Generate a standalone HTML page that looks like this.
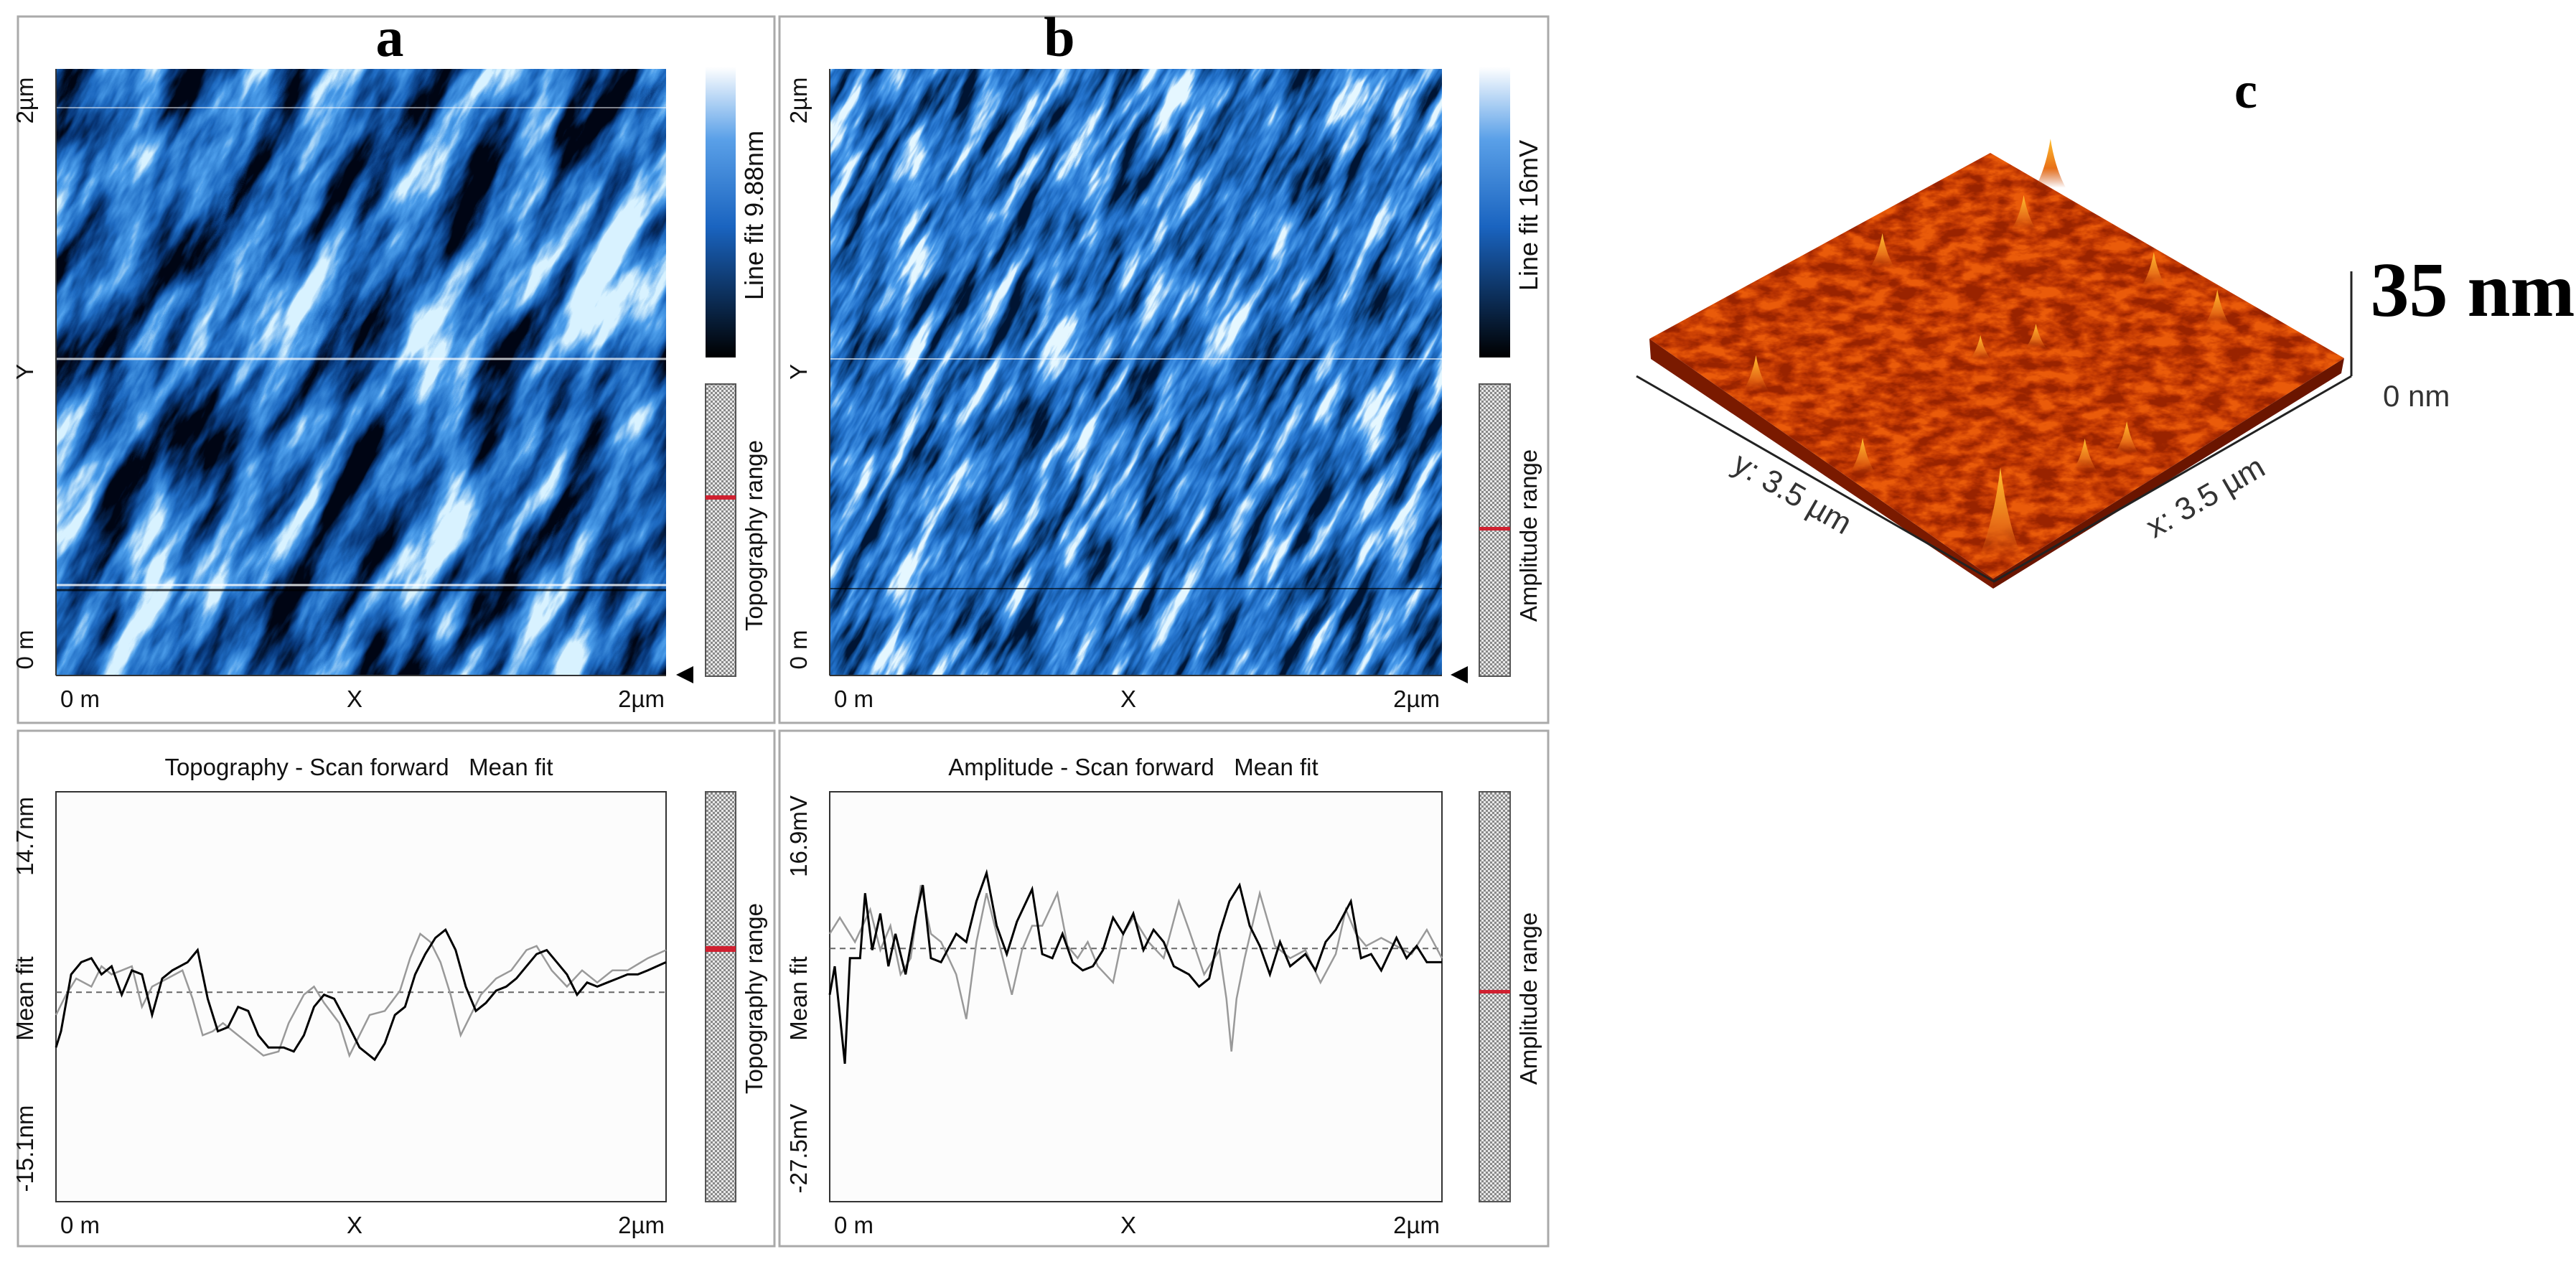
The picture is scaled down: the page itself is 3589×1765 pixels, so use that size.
<!DOCTYPE html>
<html><head><meta charset="utf-8"><style>
html,body{margin:0;padding:0;background:#fff}
svg{display:block}
text{font-family:"Liberation Sans",sans-serif}
.lbl{font-size:33px;fill:#111}
.big{font-family:"Liberation Serif",serif;font-weight:bold}
</style></head><body>
<svg id="fig" width="3589" height="1765" viewBox="0 0 3589 1765">
<defs>
<filter id="topo" x="0" y="0" width="1" height="1" filterUnits="objectBoundingBox" color-interpolation-filters="sRGB">
 <feTurbulence type="fractalNoise" baseFrequency="0.0045 0.018" numOctaves="5" seed="7"/>
 <feColorMatrix type="matrix" values="1 0 0 0 0 1 0 0 0 0 1 0 0 0 0 0 0 0 0 1"/>
 <feComponentTransfer><feFuncR type="linear" slope="2.6" intercept="-0.8"/><feFuncG type="linear" slope="2.6" intercept="-0.8"/><feFuncB type="linear" slope="2.6" intercept="-0.8"/><feFuncA type="discrete" tableValues="1"/></feComponentTransfer>
 <feComponentTransfer><feFuncR type="table" tableValues="0 0.03 0.12 0.3 0.85"/><feFuncG type="table" tableValues="0.02 0.22 0.42 0.62 0.95"/><feFuncB type="table" tableValues="0.08 0.48 0.76 0.92 1"/></feComponentTransfer>
</filter>
<filter id="amp" x="0" y="0" width="1" height="1" filterUnits="objectBoundingBox" color-interpolation-filters="sRGB">
 <feTurbulence type="fractalNoise" baseFrequency="0.008 0.045" numOctaves="4" seed="3"/>
 <feColorMatrix type="matrix" values="1 0 0 0 0 1 0 0 0 0 1 0 0 0 0 0 0 0 0 1"/>
 <feComponentTransfer><feFuncR type="linear" slope="2.1" intercept="-0.55"/><feFuncG type="linear" slope="2.1" intercept="-0.55"/><feFuncB type="linear" slope="2.1" intercept="-0.55"/><feFuncA type="discrete" tableValues="1"/></feComponentTransfer>
 <feComponentTransfer><feFuncR type="table" tableValues="0 0.06 0.14 0.3 0.9"/><feFuncG type="table" tableValues="0.08 0.3 0.45 0.62 0.97"/><feFuncB type="table" tableValues="0.2 0.58 0.8 0.93 1"/></feComponentTransfer>
</filter>
<filter id="rust" x="0" y="0" width="1" height="1" filterUnits="objectBoundingBox" color-interpolation-filters="sRGB">
 <feTurbulence type="fractalNoise" baseFrequency="0.03 0.06" numOctaves="4" seed="5"/>
 <feColorMatrix type="matrix" values="1 0 0 0 0 1 0 0 0 0 1 0 0 0 0 0 0 0 0 1"/>
 <feComponentTransfer><feFuncR type="linear" slope="2.5" intercept="-0.75"/><feFuncG type="linear" slope="2.5" intercept="-0.75"/><feFuncB type="linear" slope="2.5" intercept="-0.75"/><feFuncA type="discrete" tableValues="1"/></feComponentTransfer>
 <feComponentTransfer><feFuncR type="table" tableValues="0.6 0.72 0.82 0.92"/><feFuncG type="table" tableValues="0.14 0.2 0.27 0.36"/><feFuncB type="table" tableValues="0 0.01 0.02 0.04"/></feComponentTransfer>
</filter>
<clipPath id="ca"><rect x="78" y="96" width="850" height="845"/></clipPath>
<clipPath id="cb"><rect x="1156" y="96" width="853" height="845"/></clipPath>
<clipPath id="cs"><polygon points="2298,472 2773,213 3266,499 2777,806"/></clipPath>
<linearGradient id="cbar" x1="0" y1="1" x2="0" y2="0"><stop offset="0" stop-color="#000"/><stop offset="0.45" stop-color="#1a64c0"/><stop offset="0.75" stop-color="#5aa0e8"/><stop offset="1" stop-color="#fff"/></linearGradient>
<linearGradient id="peak" x1="0" y1="1" x2="0" y2="0"><stop offset="0" stop-color="#c84808" stop-opacity="0"/><stop offset="0.4" stop-color="#e87018"/><stop offset="1" stop-color="#ffc030"/></linearGradient>
<pattern id="dots" width="6" height="6" patternUnits="userSpaceOnUse"><rect width="6" height="6" fill="#e8e8e8"/><rect width="3" height="3" fill="#888"/><rect x="3" y="3" width="3" height="3" fill="#888"/></pattern>
</defs>

<rect x="25" y="23" width="1054" height="984" fill="none" stroke="#aaa" stroke-width="3"/>
<rect x="1086" y="23" width="1071" height="984" fill="none" stroke="#aaa" stroke-width="3"/>
<rect x="25" y="1018" width="1054" height="718" fill="none" stroke="#aaa" stroke-width="3"/>
<rect x="1086" y="1018" width="1071" height="718" fill="none" stroke="#aaa" stroke-width="3"/>

<text x="543" y="78" class="big" font-size="78" text-anchor="middle">a</text>
<text x="1476" y="78" class="big" font-size="78" text-anchor="middle">b</text>

<g clip-path="url(#ca)">
 <g transform="rotate(-62 503 518)"><rect x="-300" y="-300" width="1600" height="1600" filter="url(#topo)"/></g>
 <line x1="78" y1="500" x2="928" y2="500" stroke="#fff" stroke-width="3" opacity="0.7"/>
 <line x1="78" y1="815" x2="928" y2="815" stroke="#fff" stroke-width="3" opacity="0.8"/>
 <line x1="78" y1="822" x2="928" y2="822" stroke="#000" stroke-width="3" opacity="0.7"/>
 <line x1="78" y1="150" x2="928" y2="150" stroke="#fff" stroke-width="2" opacity="0.5"/>
</g>
<g clip-path="url(#cb)">
 <g transform="rotate(-62 1582 518)"><rect x="780" y="-300" width="1600" height="1600" filter="url(#amp)"/></g>
 <line x1="1156" y1="500" x2="2009" y2="500" stroke="#fff" stroke-width="2" opacity="0.6"/>
 <line x1="1156" y1="820" x2="2009" y2="820" stroke="#000" stroke-width="2" opacity="0.6"/>
</g>

<g class="lbl">
 <line x1="78" y1="941" x2="78" y2="96" stroke="#333" stroke-width="2"/>
 <line x1="78" y1="941" x2="928" y2="941" stroke="#333" stroke-width="2"/>
 <text transform="translate(46,140) rotate(-90)" text-anchor="middle">2µm</text>
 <text transform="translate(46,518) rotate(-90)" text-anchor="middle">Y</text>
 <text transform="translate(46,905) rotate(-90)" text-anchor="middle">0 m</text>
 <text x="84" y="985">0 m</text><text x="494" y="985" text-anchor="middle">X</text><text x="926" y="985" text-anchor="end">2µm</text>
</g>
<g class="lbl">
 <line x1="1156" y1="941" x2="1156" y2="96" stroke="#333" stroke-width="2"/>
 <line x1="1156" y1="941" x2="2009" y2="941" stroke="#333" stroke-width="2"/>
 <text transform="translate(1124,140) rotate(-90)" text-anchor="middle">2µm</text>
 <text transform="translate(1124,518) rotate(-90)" text-anchor="middle">Y</text>
 <text transform="translate(1124,905) rotate(-90)" text-anchor="middle">0 m</text>
 <text x="1162" y="985">0 m</text><text x="1572" y="985" text-anchor="middle">X</text><text x="2006" y="985" text-anchor="end">2µm</text>
</g>
<polygon points="942,940 966,928 966,952" fill="#000"/>
<polygon points="2021,940 2045,928 2045,952" fill="#000"/>

<rect x="983" y="93" width="42" height="405" fill="url(#cbar)"/>
<rect x="983" y="535" width="42" height="407" fill="url(#dots)" stroke="#555" stroke-width="2"/>
<rect x="983" y="690" width="42" height="6" fill="#d02030"/>
<rect x="2061" y="93" width="43" height="405" fill="url(#cbar)"/>
<rect x="2061" y="535" width="43" height="407" fill="url(#dots)" stroke="#555" stroke-width="2"/>
<rect x="2061" y="734" width="43" height="5" fill="#d02030"/>
<g class="lbl">
 <text transform="translate(1063,300) rotate(-90)" text-anchor="middle" font-size="36">Line fit 9.88nm</text>
 <text transform="translate(1062,746) rotate(-90)" text-anchor="middle">Topography range</text>
 <text transform="translate(2142,300) rotate(-90)" text-anchor="middle" font-size="36">Line fit 16mV</text>
 <text transform="translate(2141,746) rotate(-90)" text-anchor="middle">Amplitude range</text>
</g>

<text x="500" y="1080" class="lbl" font-size="38" text-anchor="middle">Topography - Scan forward&#160;&#160;&#160;Mean fit</text>
<text x="1579" y="1080" class="lbl" font-size="38" text-anchor="middle">Amplitude - Scan forward&#160;&#160;&#160;Mean fit</text>
<rect x="78" y="1103" width="850" height="571" fill="#fcfcfc" stroke="#333" stroke-width="2"/>
<rect x="1156" y="1103" width="853" height="571" fill="#fcfcfc" stroke="#333" stroke-width="2"/>
<g class="lbl">
 <text transform="translate(46,1165) rotate(-90)" text-anchor="middle">14.7nm</text>
 <text transform="translate(46,1391) rotate(-90)" text-anchor="middle">Mean fit</text>
 <text transform="translate(46,1600) rotate(-90)" text-anchor="middle">-15.1nm</text>
 <text transform="translate(1124,1165) rotate(-90)" text-anchor="middle">16.9mV</text>
 <text transform="translate(1124,1391) rotate(-90)" text-anchor="middle">Mean fit</text>
 <text transform="translate(1124,1600) rotate(-90)" text-anchor="middle">-27.5mV</text>
 <text x="84" y="1718">0 m</text><text x="494" y="1718" text-anchor="middle">X</text><text x="926" y="1718" text-anchor="end">2µm</text>
 <text x="1162" y="1718">0 m</text><text x="1572" y="1718" text-anchor="middle">X</text><text x="2006" y="1718" text-anchor="end">2µm</text>
 <text transform="translate(1062,1391) rotate(-90)" text-anchor="middle">Topography range</text>
 <text transform="translate(2141,1391) rotate(-90)" text-anchor="middle">Amplitude range</text>
</g>
<rect x="983" y="1103" width="42" height="571" fill="url(#dots)" stroke="#555" stroke-width="2"/>
<rect x="983" y="1318" width="42" height="8" fill="#d02030"/>
<rect x="2061" y="1103" width="43" height="571" fill="url(#dots)" stroke="#555" stroke-width="2"/>
<rect x="2061" y="1379" width="43" height="5" fill="#d02030"/>
<g id="profiles"></g>

<text x="3129" y="150" class="big" font-size="72" text-anchor="middle">c</text>
<polygon points="2298,472 2777,806 2777,820 2300,500" fill="#7a1a00"/>
<polygon points="2777,806 3266,499 3262,520 2777,820" fill="#6a1500"/>
<g clip-path="url(#cs)">
 <rect x="2290" y="200" width="990" height="620" filter="url(#rust)"/>
</g>
<g id="peaks"></g>
<g stroke="#222" stroke-width="3" fill="none">
 <polyline points="2280,524 2778,810 3276,524"/>
 <line x1="3276" y1="378" x2="3276" y2="524"/>
</g>
<text x="3445" y="440" class="big" font-size="108" text-anchor="middle">35 nm</text>
<text x="3320" y="566" font-size="42" fill="#333">0 nm</text>
<text transform="translate(2490,700) rotate(30)" font-size="44" fill="#333" text-anchor="middle">y: 3.5 µm</text>
<text transform="translate(3080,705) rotate(-30)" font-size="44" fill="#333" text-anchor="middle">x: 3.5 µm</text>
</svg>
<script>
// Profile data: sample index along scan line, relative height
const topoBlackS=[0,5,15,25,35,45,55,65,75,85,95,105,115,130,140,150,160,170,180,190,200,210,225,235,245,255,265,275,290,300,315,325,335,345,355,365,375,385,395,405,415,425,435,445,455,465,475,485,495,505,515,525,535,545,555,565,575,585,603];
const topoBlackV=[-6.8,-4.8,2.2,3.7,4.2,2.2,3.2,-0.3,2.7,2.2,-2.8,1.7,2.7,3.7,5.2,-0.8,-4.8,-4.3,-1.8,-2.3,-5.3,-6.8,-6.8,-7.3,-5.3,-1.8,-0.3,-0.8,-4.3,-6.8,-8.3,-6.3,-2.8,-1.8,2.2,4.7,6.7,7.7,5.2,0.7,-2.3,-1.3,0.2,0.7,1.7,3.2,4.7,5.2,3.7,2.2,-0.3,1.2,0.7,1.2,1.7,2.2,2.2,2.7,3.7];
const topoGrayS=[0,10,20,35,45,55,65,75,85,95,110,125,135,145,155,165,175,190,205,220,230,245,255,265,280,290,300,310,325,340,350,360,370,380,390,400,410,420,435,450,465,475,490,505,520,535,550,565,585,603];
const topoGrayV=[-2.8,-0.3,1.7,0.7,3.2,2.2,2.7,3.2,-1.8,0.7,1.7,2.7,-0.8,-5.3,-4.8,-3.8,-4.8,-6.3,-7.8,-7.3,-3.8,-0.3,0.7,-1.3,-3.8,-7.8,-5.3,-2.8,-2.3,0.2,4.2,7.2,6.2,3.7,-0.3,-5.3,-2.8,-0.3,1.7,2.7,5.2,5.7,2.7,0.7,2.7,1.2,2.7,2.7,4.2,5.2];
const ampBlackS=[0,5,10,15,20,30,35,42,50,58,65,75,85,92,100,110,125,135,145,155,165,175,185,200,210,220,230,240,250,260,270,280,290,300,310,320,330,340,355,365,375,385,395,405,415,425,435,445,455,470,480,490,500,515,525,535,545,560,570,580,590,605];
const ampBlackV=[-0.3,3.2,-2.8,-8.8,4.2,4.2,12.2,5.2,9.7,3.2,7.2,2.2,9.2,13.2,4.2,3.7,7.2,6.2,11.2,14.7,8.2,4.7,8.7,12.7,4.7,4.2,7.2,3.7,2.7,3.2,5.2,9.2,7.2,9.7,5.2,7.7,6.2,3.2,2.2,0.7,1.7,7.2,11.2,13.2,8.2,5.7,2.2,6.2,3.2,4.7,2.7,6.2,7.7,11.2,4.2,4.7,2.7,6.7,4.2,5.7,3.7,3.7];
const ampGrayS=[0,10,25,40,50,60,70,80,90,100,110,125,135,145,155,165,180,190,200,210,225,235,245,255,265,280,290,300,315,330,345,355,370,385,392,397,402,410,425,440,455,470,485,500,510,520,530,545,560,575,590,605];
const ampGrayV=[7.2,9.2,6.2,10.2,5.2,8.2,2.2,4.2,13.2,7.2,6.2,2.2,-3.3,6.2,12.2,7.2,-0.3,5.2,8.2,8.2,12.2,5.7,4.2,6.2,3.2,1.2,7.2,9.2,6.2,4.2,11.2,7.7,2.2,5.2,-0.8,-7.3,-0.8,4.2,12.2,5.7,4.2,5.2,1.2,4.7,10.2,7.2,5.7,6.7,5.7,4.7,7.7,4.2];
const yDomain=[-25.8,24.7];
const topoMean=0, ampMean=5.4;
// Surface peak data: grid position (u,v in 0..1) and height (nm)
const peakU=[0.17,0.24,0.14,0.56,0.74,0.26,0.59,0.89,0.91,0.97,0.49,0.54];
const peakV=[0.0,0.15,0.46,0.1,0.1,0.95,0.97,0.63,0.53,0.95,0.53,0.42];
const peakH=[19,14,14,14,14,14,14,13,13,36,10,10];

const NS='http://www.w3.org/2000/svg';
const prof=document.getElementById('profiles');
function plot(sx,sv,x0,w,n,color,name,width){
  const y0=1103,h=571;
  const sy=v=>y0+h-(v-yDomain[0])/(yDomain[1]-yDomain[0])*h;
  const pts=sx.map((s,i)=>(x0+s/n*w).toFixed(1)+','+sy(sv[i]).toFixed(1)).join(' ');
  const p=document.createElementNS(NS,'polyline');
  p.setAttribute('points',pts);p.setAttribute('fill','none');
  p.setAttribute('stroke',color);p.setAttribute('stroke-width',width);
  
  
  prof.appendChild(p);
}
function mean(x0,w,v,name){
  const y0=1103,h=571;
  const y=y0+h-(v-yDomain[0])/(yDomain[1]-yDomain[0])*h;
  const l=document.createElementNS(NS,'line');
  l.setAttribute('x1',x0);l.setAttribute('x2',x0+w);l.setAttribute('y1',y);l.setAttribute('y2',y);
  l.setAttribute('stroke','#666');l.setAttribute('stroke-width','2');l.setAttribute('stroke-dasharray','8 6');
  
  
  prof.appendChild(l);
}
mean(78,850,topoMean,'topography-mean-line');
mean(1156,853,ampMean,'amplitude-mean-line');
plot(topoGrayS,topoGrayV,78,850,603,'#999','topography-backward-line',2.5);
plot(topoBlackS,topoBlackV,78,850,603,'#000','topography-forward-line',3);
plot(ampGrayS,ampGrayV,1156,853,605,'#999','amplitude-backward-line',2.5);
plot(ampBlackS,ampBlackV,1156,853,605,'#000','amplitude-forward-line',3);

const pk=document.getElementById('peaks');
const L=[2298,472],T=[2773,213],R=[3266,499],B=[2777,806];
for(let i=0;i<peakU.length;i++){
  const u=peakU[i],v=peakV[i];
  const x=(1-u)*(1-v)*T[0]+u*(1-v)*R[0]+(1-u)*v*L[0]+u*v*B[0];
  const y=(1-u)*(1-v)*T[1]+u*(1-v)*R[1]+(1-u)*v*L[1]+u*v*B[1];
  const hh=peakH[i]*3.6, ww=10+peakH[i]*0.6;
  const p=document.createElementNS(NS,'path');
  p.setAttribute('d',`M${x-ww},${y} Q${x-ww*0.3},${y-hh*0.4} ${x},${y-hh} Q${x+ww*0.3},${y-hh*0.4} ${x+ww},${y} Z`);
  p.setAttribute('fill','url(#peak)');
  
  
  pk.appendChild(p);
}
</script>
</body></html>
